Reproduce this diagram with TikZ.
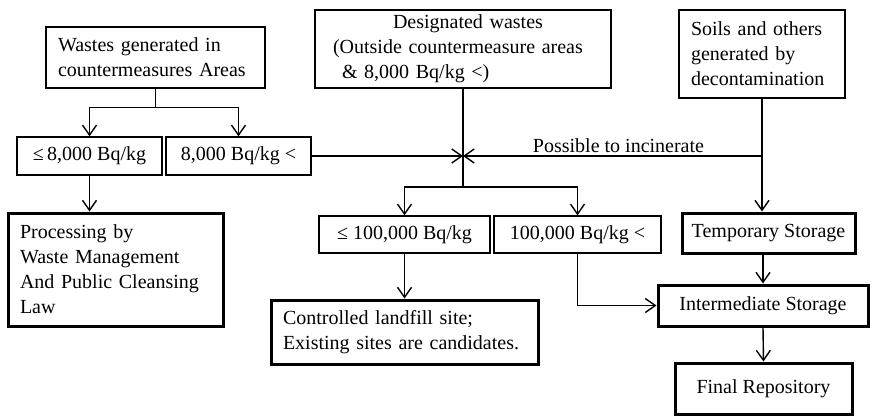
\documentclass[tikz,border=0pt]{standalone}
\usepackage{fontspec}
\setmainfont{Liberation Serif}
\usetikzlibrary{arrows.meta,calc}
\begin{document}
\begin{tikzpicture}[x=1pt,y=-1pt,
  txt/.style={font=\fontsize{20}{25}\selectfont},
  box/.style={txt, draw, line width=1.4pt, inner ysep=2pt},
  lbox/.style={box, align=left, inner xsep=12pt},
  heavy/.style={line width=3pt},
  conn/.style={line width=1.4pt},
  arr/.style={conn, -{Straight Barb[length=10pt,width=14pt,line width=1.4pt]}}]
\useasboundingbox (0,0) rectangle (870,416);

% nodes
\node[lbox, text width=195pt, minimum height=61pt] (wastes) at (155.5,57.5) {Wastes generated in\\countermeasures Areas};
\node[box, align=left, inner xsep=18pt, text width=260pt, minimum height=78pt] (desig) at (463,49)
  {\hspace*{60pt}Designated wastes\\(Outside countermeasure areas\\\hspace*{9pt}\& 8,000 Bq/kg <)};
\node[lbox, text width=142pt, minimum height=88pt] (soils) at (762,54) {Soils and others\\generated by\\decontamination};
\node[box, minimum width=145pt, minimum height=38pt] (le8) at (89.5,156) {≤\,8,000 Bq/kg};
\node[box, minimum width=145pt, minimum height=38pt] (gt8) at (238.5,156) {8,000 Bq/kg <};
\node[lbox, heavy, text width=191pt, minimum height=113pt] (proc) at (115.5,269.5) {Processing by\\Waste Management\\And Public Cleansing\\Law};
\node[box, minimum width=171pt, minimum height=37pt] (le100) at (404.5,234.5) {≤ 100,000 Bq/kg};
\node[box, minimum width=167pt, minimum height=37pt] (gt100) at (577.5,234.5) {100,000 Bq/kg <};
\node[lbox, heavy, text width=243pt, minimum height=64pt] (landfill) at (404.5,332) {Controlled landfill site;\\Existing sites are candidates.};
\node[box, heavy, minimum width=173pt, minimum height=40pt] (temp) at (768.5,233) {Temporary Storage};
\node[box, heavy, minimum width=210pt, minimum height=41pt] (inter) at (763,305.5) {Intermediate Storage};
\node[box, heavy, minimum width=177pt, minimum height=51pt] (final) at (763.5,388.5) {Final Repository};

% connectors
\coordinate (s1) at ($(wastes.south)+(0,19)$);
\draw[conn] (wastes.south) -- (s1);
\draw[arr] (s1) -| (le8.north);
\draw[arr] (s1) -| (gt8.north);
\draw[arr] (le8.south) -- (le8.south |- proc.north);

\coordinate (J) at (desig.south |- gt8.east);
\coordinate (s2) at (desig.south |- 0,187);
\draw[arr] (gt8.east) -- (J);
\draw[conn] (desig.south) -- (s2);
\draw[arr] (s2) -| (le100.north);
\draw[arr] (s2) -| (gt100.north);
\draw[arr] (le100.south) -- (landfill.north);

\coordinate (K) at (soils.south |- J);
\draw[arr] (K) -- node[txt, pos=0.48, above, inner sep=3pt] {Possible to incinerate} (J);
\draw[arr] (soils.south) -- (soils.south |- temp.north);
\draw[arr] (inter.north |- temp.south) -- (inter.north);
\draw[arr] (gt100.south) |- (inter.west);
\draw[arr] (inter.south) -- (final.north);
\end{tikzpicture}
\end{document}
